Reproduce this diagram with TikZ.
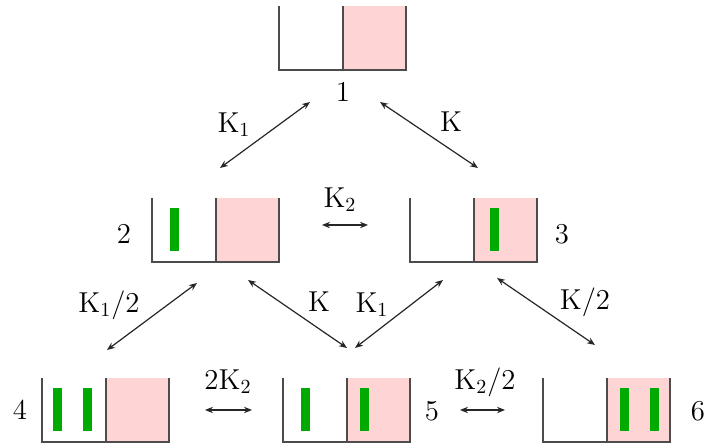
\documentclass[tikz,border=0pt]{standalone}
\usepackage{tikz}
\usetikzlibrary{positioning, arrows.meta}
\definecolor{cellpink}{RGB}{255,212,212}
\definecolor{rodgreen}{RGB}{0,170,0}

\tikzset{
    wall/.style={draw=black!70, line width=1pt},
    rod/.style={fill=rodgreen},
    rate/.style={{Stealth[length=4pt,width=3.2pt]}-{Stealth[length=4pt,width=3.2pt]}, black!85, line width=0.6pt},
    lbl/.style={font=\Large, inner sep=0pt}
}

\begin{document}
\begin{tikzpicture}[x=0.5pt, y=-0.5pt]
    \useasboundingbox (0,0) rectangle (709,448);

    % two-compartment cells, right half shaded
    \foreach \bx/\by in {279/6, 152/198, 410/198, 42/378, 283/378, 543/378} {
        \fill[cellpink] (\bx+64,\by) rectangle (\bx+127,\by+64);
        \draw[wall] (\bx,\by) -- (\bx,\by+64) -- (\bx+127,\by+64) -- (\bx+127,\by);
        \draw[wall] (\bx+64,\by) -- (\bx+64,\by+64);
    }

    % rods
    \foreach \rx/\ry in {170/208, 490/208, 53/388, 83/388, 301/388, 360/388, 620/388, 650/388}
        \fill[rod] (\rx,\ry) rectangle +(9,43);

    % state numbers
    \node[lbl] (s1) at (343,92) {1};
    \node[lbl] (s2) at (124,234) {2};
    \node[lbl] (s3) at (562,234) {3};
    \node[lbl] (s4) at (20,410) {4};
    \node[lbl] (s5) at (432,411) {5};
    \node[lbl] (s6) at (698,411) {6};

    % arrow ends
    \coordinate (e12) at (310,102); \coordinate (e21) at (220,168);
    \coordinate (e13) at (380,102); \coordinate (e31) at (478,168);
    \coordinate (e23) at (322,225); \coordinate (e32) at (368,225);
    \coordinate (e24) at (197,283); \coordinate (e42) at (107,350);
    \coordinate (e25) at (248,280); \coordinate (e52) at (347,348);
    \coordinate (e35) at (443,280); \coordinate (e53) at (355,348);
    \coordinate (e36) at (497,278); \coordinate (e63) at (595,345);
    \coordinate (e45) at (205,410); \coordinate (e54) at (252,410);
    \coordinate (e56) at (460,410); \coordinate (e65) at (505,410);

    \draw[rate] (e12) -- (e21);
    \draw[rate] (e13) -- (e31);
    \draw[rate] (e23) -- (e32);
    \draw[rate] (e24) -- (e42);
    \draw[rate] (e25) -- (e52);
    \draw[rate] (e35) -- (e53);
    \draw[rate] (e36) -- (e63);
    \draw[rate] (e45) -- (e54);
    \draw[rate] (e56) -- (e65);

    % rate constants
    \node[lbl] (k12) at (234,125) {$\mathrm{K}_1$};
    \node[lbl] (k13) at (451,122) {$\mathrm{K}$};
    \node[lbl] (k23) at (340,200) {$\mathrm{K}_2$};
    \node[lbl] (k24) at (109,305) {$\mathrm{K}_1/2$};
    \node[lbl] (k25) at (319,302) {$\mathrm{K}$};
    \node[lbl] (k35) at (372,305) {$\mathrm{K}_1$};
    \node[lbl] (k36) at (585,302) {$\mathrm{K}/2$};
    \node[lbl] (k45) at (228,382) {$2\mathrm{K}_2$};
    \node[lbl] (k56) at (485,382) {$\mathrm{K}_2/2$};
\end{tikzpicture}
\end{document}
